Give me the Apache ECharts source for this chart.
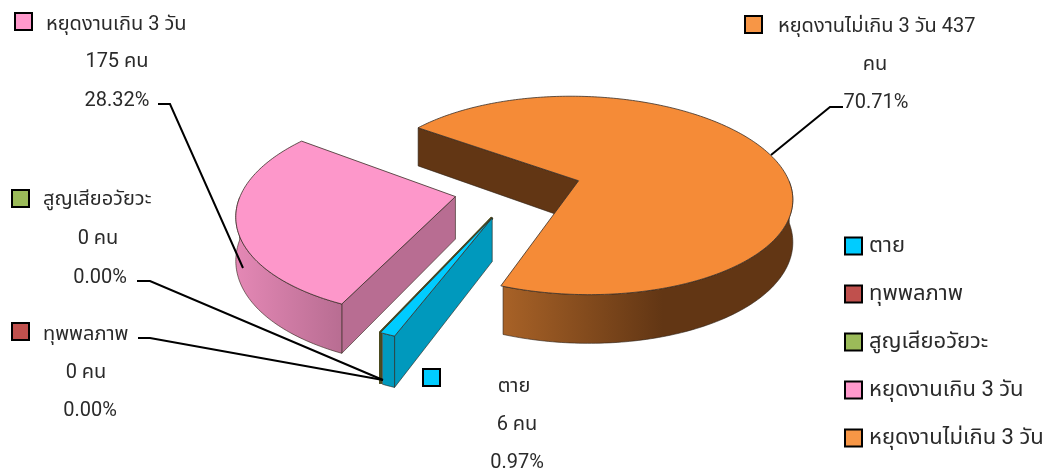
<!DOCTYPE html>
<html>
<head>
<meta charset="utf-8">
<style>
html, body { margin: 0; padding: 0; background: #fff; }
#chart { width: 1048px; height: 471px; }
</style>
<script src="https://cdn.jsdelivr.net/npm/echarts@6/dist/echarts.min.js"></script>
</head>
<body>
<div id="chart"></div>
<script>
var categories = ['ตาย', 'ทุพพลภาพ', 'สูญเสียอวัยวะ', 'หยุดงานเกิน 3 วัน', 'หยุดงานไม่เกิน 3 วัน'];
var people = [6, 0, 0, 175, 437];
var percents = ['0.97%', '0.00%', '0.00%', '28.32%', '70.71%'];
var unit = 'คน';

var colors = ['#00ccff', '#c0504d', '#9bbb59', '#ff99cc', '#f79646'];
var fontName = 'Roboto, "Noto Sans Thai", "Noto Sans", sans-serif';

// ขนาดของพาย 3 มิติ
var cx = 518, cy = 189, rx = 213, ry = 99.5, persp = 0.15, depth = 42, explode = 0.3;
var firstAngle = 201;
var total = 0;
for (var n = 0; n < people.length; n++) {
	total += people[n];
}

function project(u, v) {
	var s = 1 / (1 - persp * v);
	return [cx + rx * u * s, cy + ry * v * s, depth * s];
}

// มุมนับจากด้านบนตามเข็มนาฬิกา
function sliceAngles(index) {
	var a = firstAngle;
	for (var i = 0; i < index; i++) {
		a += people[i] / total * 360;
	}
	return [a, a + people[index] / total * 360];
}

function rimPoint(mid, angle, r) {
	var rad = angle * Math.PI / 180, m = mid * Math.PI / 180;
	return project(explode * Math.sin(m) + r * Math.sin(rad), -explode * Math.cos(m) - r * Math.cos(rad));
}

function wallShape(a, b) {
	return [[a[0], a[1]], [b[0], b[1]], [b[0], b[1] + b[2]], [a[0], a[1] + a[2]]];
}

function renderSlice(index, style) {
	return function () {
		var ang = sliceAngles(index);
		var mid = (ang[0] + ang[1]) / 2;
		var children = [];

		// ชิ้นที่เป็นศูนย์เห็นเป็นเส้นบางๆ ชิดชิ้นก่อนหน้า
		if (people[index] == 0) {
			var prev = sliceAngles(0);
			var prevMid = (prev[0] + prev[1]) / 2;
			var from = rimPoint(prevMid, 0, 0), rim = rimPoint(prevMid, ang[0], 1);
			children.push({
				type: 'polyline',
				shape: { points: [[from[0], from[1]], [rim[0], rim[1]], [rim[0], rim[1] + rim[2]]] },
				style: { fill: null, stroke: style.wall, lineWidth: 3 }
			});
			return { type: 'group', children: children };
		}

		var apex = rimPoint(mid, 0, 0);
		var start = rimPoint(mid, ang[0], 1), end = rimPoint(mid, ang[1], 1);
		var top = [[apex[0], apex[1]]], arc = [];
		for (var a = ang[0]; a <= ang[1]; a += 1) {
			var p = rimPoint(mid, a, 1);
			top.push([p[0], p[1]]);
			var wrapped = ((a % 360) + 360) % 360;
			if (wrapped >= 90 && wrapped <= 270) {
				arc.push(p);
			}
		}
		top.push([end[0], end[1]]);

		// ผนังด้านตัด
		children.push({
			type: 'polygon',
			shape: { points: wallShape(apex, start) },
			style: { fill: style.wall, stroke: '#2b2016', lineWidth: 0.6 }
		});

		// ผนังโค้งด้านนอก
		if (arc.length > 1) {
			var outer = [];
			for (var i = 0; i < arc.length; i++) {
				outer.push([arc[i][0], arc[i][1]]);
			}
			for (var j = arc.length - 1; j >= 0; j--) {
				outer.push([arc[j][0], arc[j][1] + arc[j][2]]);
			}
			children.push({
				type: 'polygon',
				shape: { points: outer },
				style: {
					fill: new echarts.graphic.LinearGradient(0, 0, 1, 0, style.sideStops),
					stroke: '#2b2016', lineWidth: 0.6
				}
			});
		}

		children.push({
			type: 'polygon',
			shape: { points: top },
			style: { fill: style.top, stroke: '#3a3028', lineWidth: 0.8 }
		});
		return { type: 'group', children: children };
	};
}

var sliceStyles = [
	{ top: '#00ccff', wall: '#0099bd', sideStops: [{ offset: 0, color: '#0099bd' }, { offset: 1, color: '#0099bd' }], z: 5 },
	{ top: '#c0504d', wall: '#4a4a1e', z: 4 },
	{ top: '#9bbb59', wall: '#4a4a1e', z: 4 },
	{ top: '#fd97ca', wall: '#b86d92', sideStops: [{ offset: 0, color: '#e488b5' }, { offset: 1, color: '#b86d92' }], z: 3 },
	{ top: '#f58b37', wall: '#623614', sideStops: [{ offset: 0, color: '#a86227' }, { offset: 0.55, color: '#623614' }, { offset: 1, color: '#623614' }], z: 2 }
];

var seriesList = [];
for (var k = 0; k < categories.length; k++) {
	seriesList.push({
		name: categories[k],
		type: 'custom',
		coordinateSystem: 'none',
		z: sliceStyles[k].z,
		silent: true,
		itemStyle: { color: colors[k] },
		renderItem: renderSlice(k, sliceStyles[k]),
		data: [[people[k]]]
	});
}

// ป้ายข้อความ: กล่องสี, ชื่อ, จำนวน, เปอร์เซ็นต์
function textEl(str, x, y, align) {
	return {
		type: 'text', z: 20,
		style: { text: str, x: x, y: y + 3, align: align, verticalAlign: 'middle', font: '20px ' + fontName, fill: '#2a2a2a' }
	};
}
function keyEl(index, x, y) {
	return {
		type: 'rect', z: 20,
		shape: { x: x, y: y, width: 17, height: 17 },
		style: { fill: colors[index], stroke: '#000', lineWidth: 2 }
	};
}
function leaderEl(points) {
	return {
		type: 'polyline', z: 10,
		shape: { points: points },
		style: { fill: null, stroke: '#000', lineWidth: 2 }
	};
}

var labels = [
	keyEl(3, 15, 13), textEl(categories[3], 46, 22, 'left'),
	textEl(people[3] + ' ' + unit, 117, 59, 'center'), textEl(percents[3], 117, 98, 'center'),
	leaderEl([[158, 104], [170, 104], [243, 268]]),

	keyEl(4, 745, 16), textEl(categories[4] + ' ' + people[4], 778, 24, 'left'),
	textEl(unit, 875, 62, 'center'), textEl(percents[4], 876, 100, 'center'),
	leaderEl([[843, 107], [830, 107], [771, 155]]),

	keyEl(2, 12, 190), textEl(categories[2], 43, 197, 'left'),
	textEl(people[2] + ' ' + unit, 98, 236, 'center'), textEl(percents[2], 100, 275, 'center'),
	leaderEl([[137, 281], [150, 281], [383, 380]]),

	keyEl(1, 12, 323), textEl(categories[1], 43, 332, 'left'),
	textEl(people[1] + ' ' + unit, 86, 370, 'center'), textEl(percents[1], 90, 408, 'center'),
	leaderEl([[138, 338], [150, 338], [383, 380]]),

	keyEl(0, 423, 369), textEl(categories[0], 514, 384, 'center'),
	textEl(people[0] + ' ' + unit, 517, 422, 'center'), textEl(percents[0], 517, 460, 'center')
];

var myChart = echarts.init(document.getElementById('chart'));
myChart.setOption({
	animation: false,
	backgroundColor: '#fff',
	legend: {
		orient: 'vertical',
		left: 839,
		top: 230,
		itemWidth: 17,
		itemHeight: 17,
		itemGap: 26,
		selectedMode: false,
		icon: 'rect',
		itemStyle: { borderColor: '#000', borderWidth: 2 },
		textStyle: { fontFamily: fontName, fontSize: 22, lineHeight: 18, color: '#2a2a2a', padding: [0, 0, 0, 2] },
		data: categories
	},
	graphic: { elements: labels },
	series: seriesList
});
</script>
</body>
</html>
